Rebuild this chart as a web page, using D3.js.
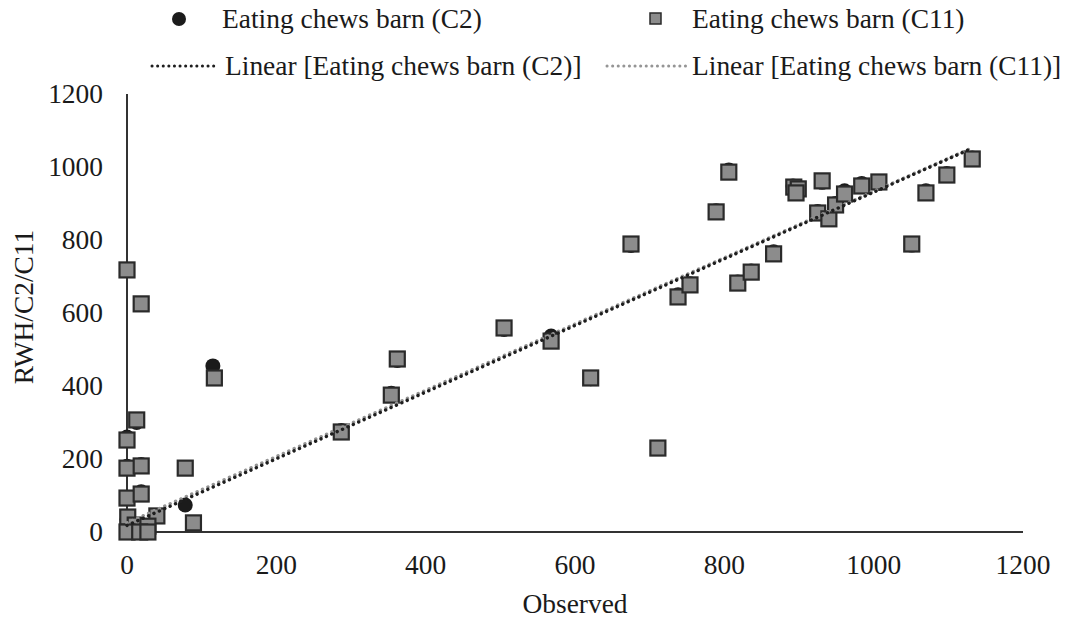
<!DOCTYPE html>
<html>
<head>
<meta charset="utf-8">
<script src="https://cdn.jsdelivr.net/npm/d3@7"></script>
<style>
  body { margin: 0; background: #fff; }
  svg text { font-family: "Liberation Serif", "Times New Roman", serif; fill: #1a1a1a; }
</style>
</head>
<body>
<svg id="chart" width="1074" height="619"></svg>
<script>
// observed vs. estimated eating chews
const c11Points = [
  [0, 718], [19, 625], [13, 307], [0, 252], [0, 175], [19, 181], [0, 93], [19, 104],
  [78, 175], [117, 422], [89, 25], [40, 44], [1, 41], [11, 19], [28, 16], [0, 0],
  [17, 0], [28, 0], [287, 274], [354, 375], [362, 474], [505, 559], [568, 523],
  [621, 422], [675, 789], [711, 230], [738, 644], [754, 677], [789, 877], [806, 986],
  [818, 682], [836, 712], [866, 762], [893, 945], [899, 940], [896, 929], [925, 874],
  [931, 962], [940, 858], [949, 896], [961, 926], [984, 948], [1007, 959], [1051, 789],
  [1070, 929], [1098, 978], [1132, 1022]
];
const c2Points = [
  [0, 35], [0, 260], [0, 180], [0, 95], [19, 110], [19, 185], [13, 300], [11, 20],
  [28, 10], [78, 74], [115, 455], [287, 278], [354, 380], [362, 470], [505, 555],
  [568, 537], [621, 420], [675, 785], [738, 650], [754, 680], [789, 880], [806, 992],
  [818, 685], [836, 715], [866, 768], [892, 948], [925, 878], [931, 958], [949, 900],
  [961, 935], [984, 955], [1007, 955], [1051, 786], [1070, 935], [1098, 982], [1132, 1025]
];
// linear trend lines: [intercept, slope], spanning the data x range
const trendC2 = [18, 0.913];
const trendC11 = [25, 0.908];
const xTicks = [0, 200, 400, 600, 800, 1000, 1200];
const yTicks = [0, 200, 400, 600, 800, 1000, 1200];
const legendLabels = [
  "Eating chews barn (C2)", "Eating chews barn (C11)",
  "Linear [Eating chews barn (C2)]", "Linear [Eating chews barn (C11)]"
];

const svg = d3.select("#chart");
const FS = 28, SX = 0.98;

const x = d3.scaleLinear().domain([0, 1200]).range([127, 1023]);
const y = d3.scaleLinear().domain([0, 1200]).range([532, 94]);

function label(g, tx, ty, str, anchor, rot) {
  const t = g.append("g").attr("transform", `translate(${tx},${ty})` + (rot ? ` rotate(${rot})` : "") + ` scale(${SX},1)`);
  t.append("text").attr("text-anchor", anchor || "start").style("font-size", FS + "px").text(str);
}

// axes
svg.append("line").attr("x1", x(0)).attr("x2", x(1200)).attr("y1", y(0)).attr("y2", y(0))
  .attr("stroke", "#333").attr("stroke-width", 2);
svg.append("line").attr("x1", x(0)).attr("x2", x(0)).attr("y1", y(0)).attr("y2", y(1200))
  .attr("stroke", "#333").attr("stroke-width", 2);

xTicks.forEach(v => label(svg, x(v), 574, v, "middle"));
yTicks.forEach(v => label(svg, 103, y(v) + 9, v, "end"));

label(svg, 575, 613, "Observed", "middle");
label(svg, 33, 307, "RWH/C2/C11", "middle", -90);

// C2 circles (drawn first, C11 on top)
svg.append("g").selectAll("circle").data(c2Points).enter().append("circle")
  .attr("cx", d => x(d[0])).attr("cy", d => y(d[1])).attr("r", 7.5)
  .attr("fill", "#1b1b1b");

const sq = 15;
svg.append("g").selectAll("rect").data(c11Points).enter().append("rect")
  .attr("x", d => x(d[0]) - sq / 2).attr("y", d => y(d[1]) - sq / 2)
  .attr("width", sq).attr("height", sq)
  .attr("fill", "#8c8c8c").attr("stroke", "#2a2a2a").attr("stroke-width", 2.2);

// trend lines
function trend(coef, pts, color) {
  const xs = d3.extent(pts, d => d[0]);
  svg.append("line")
    .attr("x1", x(xs[0])).attr("y1", y(coef[0] + coef[1] * xs[0]))
    .attr("x2", x(xs[1])).attr("y2", y(coef[0] + coef[1] * xs[1]))
    .attr("stroke", color).attr("stroke-width", 3.4)
    .attr("stroke-linecap", "round").attr("stroke-dasharray", "0.1 5.8");
}
trend(trendC11, c11Points, "#959595");
trend(trendC2, c2Points, "#1e1e1e");

// legend
const lg = svg.append("g");
lg.append("circle").attr("cx", 179).attr("cy", 19).attr("r", 7).attr("fill", "#1b1b1b");
label(lg, 222, 28, legendLabels[0]);
lg.append("rect").attr("x", 650).attr("y", 13).attr("width", 11).attr("height", 11)
  .attr("fill", "#8c8c8c").attr("stroke", "#2a2a2a").attr("stroke-width", 1.5);
label(lg, 692, 28, legendLabels[1]);
lg.append("line").attr("x1", 152).attr("x2", 216).attr("y1", 66).attr("y2", 66)
  .attr("stroke", "#1e1e1e").attr("stroke-width", 3).attr("stroke-linecap", "round").attr("stroke-dasharray", "0.1 5.5");
label(lg, 225, 75, legendLabels[2]);
lg.append("line").attr("x1", 607).attr("x2", 686).attr("y1", 66).attr("y2", 66)
  .attr("stroke", "#959595").attr("stroke-width", 3).attr("stroke-linecap", "round").attr("stroke-dasharray", "0.1 5.5");
label(lg, 692, 75, legendLabels[3]);
</script>
</body>
</html>
